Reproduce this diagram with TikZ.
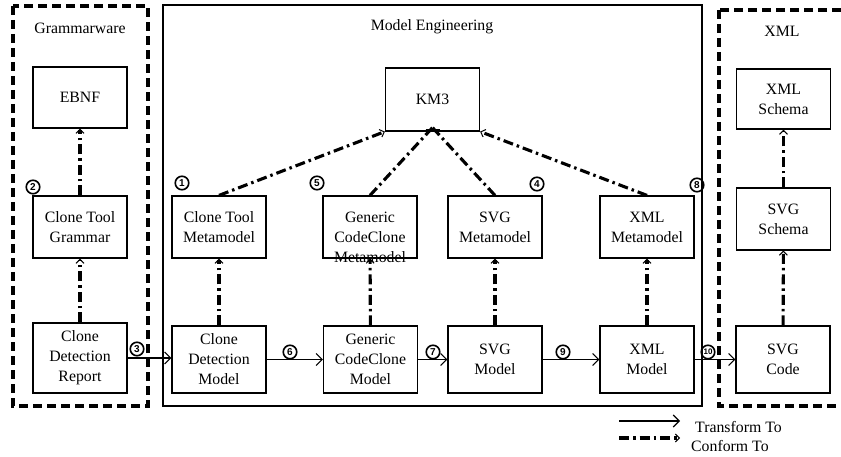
\documentclass[tikz,border=0pt]{standalone}
\usepackage{fontspec}
\setmainfont{Liberation Serif}
\setsansfont{Liberation Sans}
\usetikzlibrary{arrows.meta}
\begin{document}
\begin{tikzpicture}[x=1pt,y=-1pt,
  txt/.style={font=\fontsize{15.8}{20}\selectfont,align=center,inner sep=0pt},
  box/.style={draw,line width=1.2pt,minimum width=94pt,inner sep=0pt,txt},
  grp/.style={line width=3.2pt,dash pattern=on 9pt off 5pt},
  conf/.style={line width=3.1pt,dash pattern=on 10pt off 4pt on 2.5pt off 4pt,
    -{Straight Barb[length=4pt,width=8pt,line width=1pt]}},
  trans/.style={line width=1.1pt,-{Straight Barb[length=6pt,width=12pt,line width=1.1pt]}},
  num/.style={circle,draw,line width=1.6pt,minimum size=13.5pt,inner sep=0pt,
    font=\sffamily\bfseries\fontsize{10}{10}\selectfont}]
\useasboundingbox (0,0) rectangle (841,457);
\clip (0,0) rectangle (841,457);
\fill[white] (0,0) rectangle (841,457);
% groups
\draw[grp] (13,6) rectangle (148,406);
\draw[line width=1.2pt] (163,5) rectangle (702,406);
\draw[grp] (719,10) rectangle (860,406);
\node[txt] (gw) at (80,28) {Grammarware};
\node[txt] (me) at (432,27) {Model Engineering};
\node[txt] (xg) at (782,31) {XML};
% boxes
\node[box,minimum height=61pt] (ebnf) at (80,97.5) {EBNF};
\node[box,minimum height=62pt] (ctg) at (80,227) {Clone Tool\\Grammar};
\node[box,minimum height=70pt] (cdr) at (80,358) {Clone\\Detection\\Report};
\node[box,minimum height=63pt] (km3) at (432.5,99.5) {KM3};
\node[box,minimum height=62pt] (ctm) at (219,227) {Clone Tool\\Metamodel};
\node[box,minimum height=62pt] (gcm) at (370,227) {};
\node[txt] (gcmt) at (370,237) {Generic\\CodeClone\\Metamodel};
\node[box,minimum height=62pt] (svm) at (495,227) {SVG\\Metamodel};
\node[box,minimum height=62pt] (xmm) at (647,227) {XML\\Metamodel};
\node[box,minimum height=67pt] (cdm) at (219,359.5) {Clone\\Detection\\Model};
\node[box,minimum height=67pt] (gcmo) at (370.5,359.5) {Generic\\CodeClone\\Model};
\node[box,minimum height=67pt] (svmo) at (495,359.5) {SVG\\Model};
\node[box,minimum height=67pt] (xmmo) at (647,359.5) {XML\\Model};
\node[box,minimum height=67pt] (svc) at (783,359.5) {SVG\\Code};
\node[box,minimum height=60pt] (xsc) at (783.5,99) {XML\\Schema};
\node[box,minimum height=62pt] (ssc) at (783.5,219) {SVG\\Schema};
% conform-to
\draw[conf] (ctg) -- (ebnf);
\draw[conf] (cdr) -- (ctg);
\draw[conf] (cdm) -- (ctm);
\draw[conf] (gcmo) -- (gcm);
\draw[conf] (svmo) -- (svm);
\draw[conf] (xmmo) -- (xmm);
\draw[conf] (svc) -- (ssc);
\draw[conf] (ssc) -- (xsc);
\draw[conf] (ctm.north) -- (km3.south west);
\draw[conf] (xmm.north) -- (km3.south east);
\coordinate (km3t) at ([yshift=4pt]km3.south);
\draw[conf,-] (gcm.north) -- (km3t);
\draw[conf,-] (svm.north) -- (km3t);
\draw[line width=1pt] ([xshift=-7pt,yshift=2pt]km3.south) -- ([xshift=7pt,yshift=2pt]km3.south);
\draw[line width=1pt] ([yshift=2pt]km3.south) -- (km3t);
% transform-to
\draw[trans] (cdr.east) -- (cdm.west |- cdr.east);
\draw[trans] (cdm) -- (gcmo);
\draw[trans] (gcmo) -- (svmo);
\draw[trans] (svmo) -- (xmmo);
\draw[trans] (xmmo) -- (svc);
% numbers
\node[num] (n1) at (182,183) {1};
\node[num] (n2) at (33,187) {2};
\node[num] (n3) at (137,349) {3};
\node[num] (n4) at (537,184) {4};
\node[num] (n5) at (317,183) {5};
\node[num] (n6) at (290,352) {6};
\node[num] (n7) at (433,352) {7};
\node[num] (n8) at (697,185) {8};
\node[num] (n9) at (563,352) {9};
\node[num,font=\sffamily\bfseries\fontsize{8}{8}\selectfont] (n10) at (708,352) {10};
% legend
\coordinate (la1) at (619,421);
\coordinate (lb1) at (680,421);
\coordinate (la2) at (619,438);
\coordinate (lb2) at (680,438);
\draw[trans] (la1) -- (lb1);
\draw[conf] (la2) -- (lb2);
\node[txt,anchor=west] (lt1) at (695,427) {Transform To};
\node[txt,anchor=west] (lt2) at (691,446) {Conform To};
\end{tikzpicture}
\end{document}
